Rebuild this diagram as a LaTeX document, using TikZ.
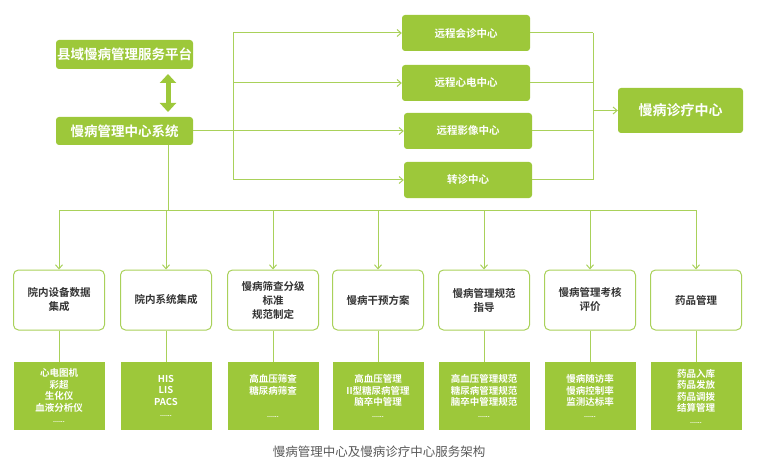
\documentclass[tikz,border=0pt]{standalone}
\usepackage{fontspec}
\setmainfont{Noto Sans CJK SC}
\newfontfamily\cjkb{Noto Sans CJK SC Bold}
\usetikzlibrary{arrows.meta}
\definecolor{gr}{HTML}{9DC83A}
\definecolor{ln}{HTML}{A9D15A}
\newcommand\dd{{\fontsize{6}{8}\selectfont ......}}
\begin{document}
\begin{tikzpicture}[x=1pt,y=-1pt,
 gbox/.style={fill=gr,rounded corners=3pt,text=white,font=\cjkb,align=center,inner sep=0pt},
 wbox/.style={draw=ln,line width=1pt,fill=white,rounded corners=5pt,font=\fontsize{10.5}{14}\selectfont\cjkb,text=black!80,align=center,inner sep=0pt,minimum width=91pt,minimum height=60pt},
 bbox/.style={fill=gr,text=white,font=\fontsize{9.5}{11.5}\selectfont\cjkb,align=center,inner sep=0pt,minimum width=91pt,minimum height=68pt},
 ln/.style={draw=ln,line width=1pt},
 arr/.style={ln,-{Straight Barb[length=4pt,width=7pt]}}]
\useasboundingbox (0,0) rectangle (758,468);
\node[gbox,minimum width=137pt,minimum height=29pt,font=\fontsize{13.5}{15}\selectfont\cjkb] (top) at (124.5,54.5) {县域慢病管理服务平台};
\node[gbox,minimum width=137pt,minimum height=28pt,font=\fontsize{13.5}{15}\selectfont\cjkb] (sys) at (124.5,131) {慢病管理中心系统};
\draw[gr,line width=5pt,{Triangle[length=9pt,width=16pt]}-{Triangle[length=9pt,width=16pt]}] (168,74) -- (168,112);
\foreach \n/\t/\x/\y in {a/远程会诊中心/466/33,b/远程心电中心/466/83,c/远程影像中心/468/131,d/转诊中心/468/180}
 \node[gbox,minimum width=128pt,minimum height=36pt,font=\fontsize{10.5}{12}\selectfont\cjkb] (\n) at (\x,\y) {\t};
\node[gbox,minimum width=125pt,minimum height=45pt,font=\fontsize{14}{16}\selectfont\cjkb] (dz) at (680.5,110.5) {慢病诊疗中心};
\coordinate (j) at (233,131);
\draw[ln] (sys.east) -- (j);
\draw[ln] (233,33) -- (233,180);
\foreach \n in {a,b,c,d} \draw[arr] (233,0 |- \n.west) -- (\n.west);
\draw[ln] (593,33) -- (593,180);
\foreach \n in {a,b,c,d} \draw[ln] (\n.east) -- (593,0 |- \n.east);
\draw[arr] (593,110.5) -- (dz.west);
\coordinate (bus) at (168,210);
\draw[ln] (168,145) -- (bus);
\draw[ln] (59,210) -- (696,210);
\foreach \i/\x/\t/\b in {
 1/59/{院内设备数据\\集成}/{心电图机\\彩超\\生化仪\\血液分析仪\\\dd},
 2/166/{院内系统集成}/{HIS\\LIS\\PACS\\\dd},
 3/273/{慢病筛查分级\\标准\\规范制定}/{高血压筛查\\糖尿病筛查\\\\\dd},
 4/378/{慢病干预方案}/{高血压管理\\II型糖尿病管理\\脑卒中管理\\\dd},
 5/484/{慢病管理规范\\指导}/{高血压管理规范\\糖尿病管理规范\\脑卒中管理规范\\\dd},
 6/590/{慢病管理考核\\评价}/{慢病随访率\\慢病控制率\\监测达标率\\\dd},
 7/696/{药品管理}/{药品入库\\药品发放\\药品调拨\\结算管理\\\dd}}{
 \node[wbox] (m\i) at (\x,300) {\t};
 \node[bbox] (b\i) at (\x,396) {\b};
 \draw[arr] (\x,210) -- (m\i.north);
 \draw[ln] (m\i.south) -- (b\i.north);
}
\node[font=\fontsize{12.5}{14}\selectfont,text=black!65] (cap) at (379,452) {慢病管理中心及慢病诊疗中心服务架构};
\end{tikzpicture}
\end{document}
